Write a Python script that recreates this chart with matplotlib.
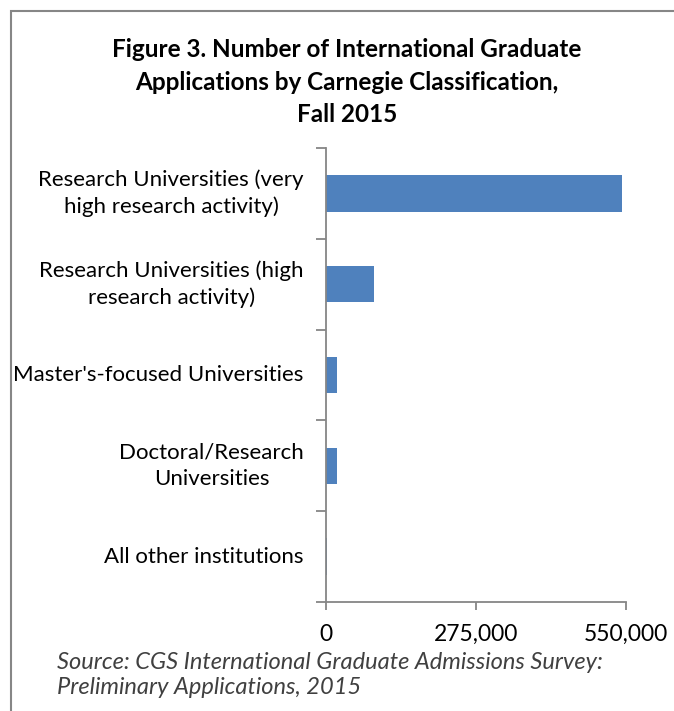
import matplotlib.pyplot as plt
from matplotlib.patches import Rectangle
from matplotlib.ticker import FixedLocator, FuncFormatter

plt.rcParams['font.family'] = ['Lato', 'DejaVu Sans']

# Data (top to bottom)
categories = ['Research Universities (very\nhigh research activity)',
              'Research Universities (high\nresearch activity)',
              "Master's-focused Universities",
              'Doctoral/Research\nUniversities',
              'All other institutions']
applications = [543000, 88500, 19500, 19500, 2000]
xticks = [0, 275000, 550000]

fig = plt.figure(figsize=(6.74, 7.11), dpi=100)
ax = fig.add_axes([0.4837, 0.1533, 0.4447, 0.6385])

pos = list(range(len(categories)))
ax.barh(pos, applications, height=0.4, color='#4F81BD')
ax.set_ylim(len(categories) - 0.5, -0.5)
ax.set_xlim(0, 550000)

grey = '#868686'
for s in ['top', 'right']:
    ax.spines[s].set_visible(False)
for s in ['left', 'bottom']:
    ax.spines[s].set_color(grey)
    ax.spines[s].set_linewidth(1.3)

ax.set_yticks(pos)
ax.set_yticklabels(categories, fontsize=16)
for lbl in ax.get_yticklabels():
    lbl.set_multialignment('center')
    lbl.set_linespacing(1.4)
    lbl.set_verticalalignment('center')
ax.yaxis.set_minor_locator(FixedLocator([p - 0.5 for p in pos] + [len(pos) - 0.5]))
ax.tick_params(axis='y', which='major', length=0, pad=16)
ax.tick_params(axis='y', which='minor', length=7, width=1.3, color=grey)

ax.set_xticks(xticks)
ax.xaxis.set_major_formatter(FuncFormatter(lambda v, p: f'{int(v):,}'))
ax.tick_params(axis='x', length=6, width=1.3, color=grey, labelsize=16.5, pad=10)

fig.text(0.515, 0.946, 'Figure 3. Number of International Graduate\nApplications by Carnegie Classification,\nFall 2015',
         ha='center', va='top', fontsize=17.5, fontweight='bold', linespacing=1.5)
fig.text(0.085, 1 - 652 / 711, 'Source: CGS International Graduate Admissions Survey:\nPreliminary Applications, 2015',
         ha='left', va='top', fontsize=17, style='italic', color='#404040', linespacing=1.25)

# outer border (cropped at right and bottom)
fig.patches.append(Rectangle((11 / 674, -0.05), 1.2, 1 - 11 / 711 + 0.05, transform=fig.transFigure,
                             fill=False, edgecolor=grey, linewidth=1.5))

fig.savefig('out.png', dpi=100)
